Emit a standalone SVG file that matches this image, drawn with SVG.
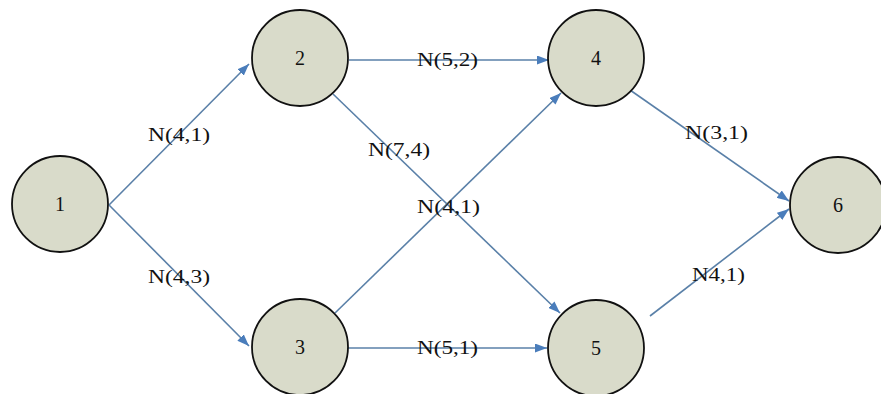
<svg xmlns="http://www.w3.org/2000/svg" width="881" height="394" viewBox="0 0 881 394">
<style>
.node circle{fill:#d9dbca;stroke:#111;stroke-width:1.8}
.node text{font-family:"Liberation Serif",serif;font-size:20px;fill:#111;text-anchor:middle}
.edge{stroke:#5a80a8;stroke-width:1.6;fill:none;marker-end:url(#arr)}
.lbl{font-family:"Liberation Serif",serif;font-size:18px;fill:#111}
</style>
<defs>
<marker id="arr" viewBox="0 0 12 9" refX="12" refY="4.5" markerWidth="12" markerHeight="9" markerUnits="userSpaceOnUse" orient="auto">
<path d="M0,0 L12,4.5 L0,9 z" fill="#4a7dbb"/>
</marker>
</defs>
<rect width="881" height="394" fill="#fff"/>
<g id="connectors">
<line class="edge" x1="109" y1="205" x2="249" y2="64"/>
<line class="edge" x1="109" y1="205" x2="249" y2="346"/>
<line class="edge" x1="349" y1="60" x2="549" y2="60"/>
<line class="edge" x1="348" y1="348" x2="547" y2="348"/>
<line class="edge" x1="333" y1="94" x2="560" y2="313"/>
<line class="edge" x1="335" y1="313" x2="561" y2="93"/>
<line class="edge" x1="630" y1="90" x2="789" y2="201"/>
<line class="edge" x1="650" y1="316" x2="789" y2="209"/>
</g>
<g id="labels">
<text class="lbl" x="148" y="141" textLength="62" lengthAdjust="spacingAndGlyphs">N(4,1)</text>
<text class="lbl" x="148" y="283" textLength="62" lengthAdjust="spacingAndGlyphs">N(4,3)</text>
<text class="lbl" x="417" y="66" textLength="61" lengthAdjust="spacingAndGlyphs">N(5,2)</text>
<text class="lbl" x="368" y="156" textLength="62" lengthAdjust="spacingAndGlyphs">N(7,4)</text>
<text class="lbl" x="417" y="213" textLength="63" lengthAdjust="spacingAndGlyphs">N(4,1)</text>
<text class="lbl" x="685" y="139" textLength="63" lengthAdjust="spacingAndGlyphs">N(3,1)</text>
<text class="lbl" x="692" y="281" textLength="53" lengthAdjust="spacingAndGlyphs">N4,1)</text>
<text class="lbl" x="417" y="354" textLength="61" lengthAdjust="spacingAndGlyphs">N(5,1)</text>
</g>
<g id="node1" class="node"><circle cx="60" cy="204" r="48"/><text x="60" y="211">1</text></g>
<g id="node2" class="node"><circle cx="300" cy="58" r="48"/><text x="300" y="65">2</text></g>
<g id="node3" class="node"><circle cx="300" cy="347" r="48"/><text x="300" y="354">3</text></g>
<g id="node4" class="node"><circle cx="596" cy="58" r="48"/><text x="596" y="65">4</text></g>
<g id="node5" class="node"><circle cx="596" cy="348" r="48"/><text x="596" y="355">5</text></g>
<g id="node6" class="node"><circle cx="838" cy="205" r="48"/><text x="838" y="212">6</text></g>
</svg>
